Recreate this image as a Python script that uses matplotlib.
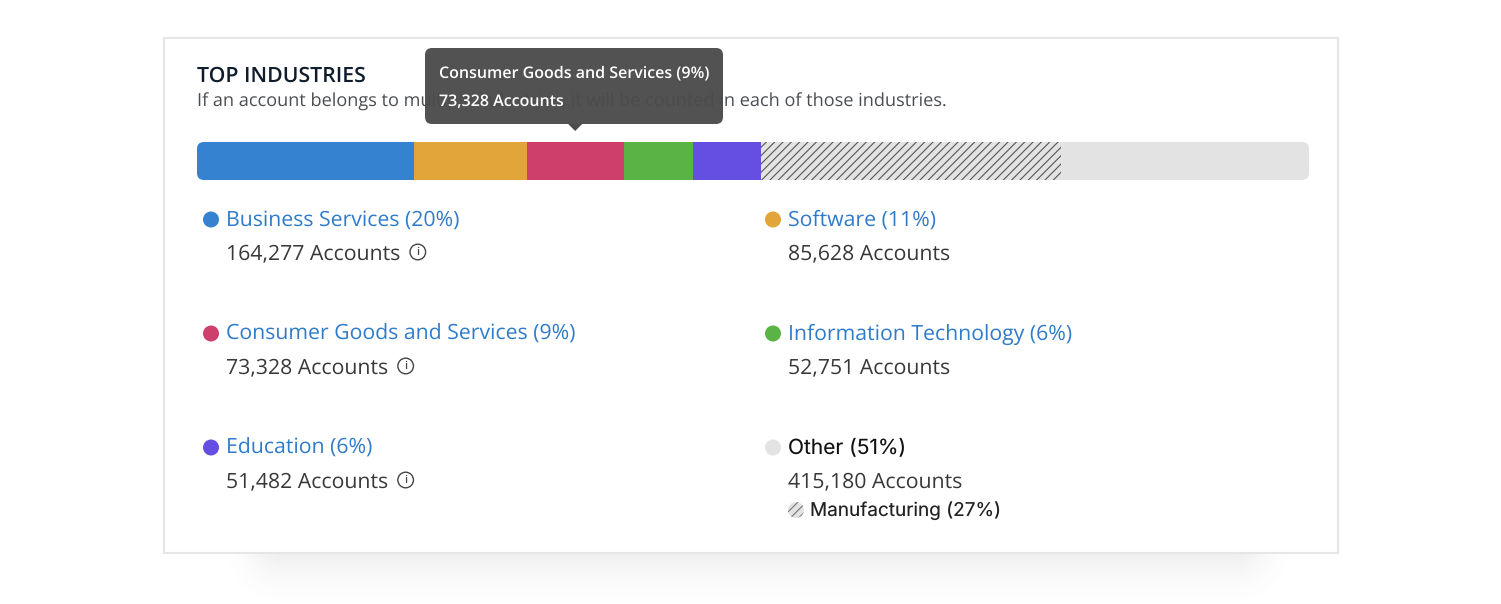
import matplotlib
matplotlib.use("Agg")
import matplotlib.pyplot as plt
import numpy as np
from matplotlib.patches import Circle, FancyBboxPatch, Polygon, Rectangle

# Данные
industries = ['Business Services', 'Software', 'Consumer Goods and Services',
              'Information Technology', 'Education', 'Other']
percents = [20, 11, 9, 6, 6, 51]
accounts = [164277, 85628, 73328, 52751, 51482, 415180]
colors = ['#3583d0', '#e2a539', '#cf3f6b', '#5ab345', '#654fe3', '#e3e3e3']
has_info = [True, False, True, False, True, False]
manufacturing_pct = 27

W, H = 1501, 604
plt.rcParams['font.family'] = ['Open Sans', 'DejaVu Sans']
plt.rcParams['text.hinting'] = 'none'
plt.rcParams['hatch.linewidth'] = 0.8
plt.rcParams['hatch.color'] = '#555555'


def px(size):
    # размер шрифта в пикселях -> пункты при dpi=100
    return size * 0.72


fig = plt.figure(figsize=(W / 100, H / 100), dpi=100, facecolor='white')
page = fig.add_axes([0, 0, 1, 1], zorder=0)
page.set_xlim(0, W)
page.set_ylim(H, 0)
page.axis('off')

# Тень под карточкой
xx, yy = np.meshgrid(np.arange(W), np.arange(H))
dx = np.maximum(np.maximum(280 - xx, xx - 1235), 0)
dy = np.maximum(yy - 545, 0)
dist = np.hypot(dx, dy)
alpha = np.clip(1 - dist / 68, 0, 1) ** 2 * 0.13
alpha[yy < 545] = 0
shadow = np.zeros((H, W, 4))
shadow[..., :3] = 0.35
shadow[..., 3] = alpha
page.imshow(shadow, extent=(0, W, H, 0), aspect='auto', zorder=0, interpolation='bilinear')
page.set_xlim(0, W)
page.set_ylim(H, 0)

# Карточка
page.add_patch(Rectangle((164, 38), 1174, 515, facecolor='white', edgecolor='#e6e6e6',
                         linewidth=1.5, zorder=1))

page.text(197, 82, 'TOP INDUSTRIES', fontsize=px(21.3), fontweight=600, color='#0f1c2b',
          va='baseline', zorder=2)
page.text(197, 107, 'If an account belongs to multiple industries, it will be counted in each of those industries.',
          fontsize=px(18.2), color='#4a4e52', va='baseline', zorder=2)

# Полоса
total = sum(accounts)
bar_ax = fig.add_axes([197 / W, 1 - 180 / H, 1112 / W, 38 / H], zorder=1)
bar_ax.set_xlim(0, total)
bar_ax.set_ylim(0, 1)
bar_ax.axis('off')

clip = FancyBboxPatch((197, 142), 1112, 38, boxstyle='round,pad=0,rounding_size=7',
                      transform=page.transData, facecolor='none', edgecolor='none')
page.add_patch(clip)

lefts = np.concatenate([[0], np.cumsum(accounts)[:-1]])
for left, value, color in zip(lefts, accounts, colors):
    bar = bar_ax.barh(0.5, value, left=left, height=1, color=color, linewidth=0)[0]
    bar.set_clip_path(clip)

# Manufacturing - штриховка внутри Other
hatched = bar_ax.barh(0.5, total * manufacturing_pct / 100, left=lefts[-1], height=1,
                      facecolor='#e3e3e3', edgecolor='#555555', hatch='////', linewidth=0)[0]
hatched.set_clip_path(clip)

# Легенда
col_x = [203, 765]
row_y = [226, 340, 454]
renderer = fig.canvas.get_renderer()
for i, name in enumerate(industries):
    x = col_x[i % 2]
    y = row_y[i // 2]
    page.add_patch(Circle((x + 8, y - 6.5), 8, facecolor=colors[i], edgecolor='none', zorder=2))
    label = f'{name} ({percents[i]}%)'
    if name == 'Other':
        page.text(x + 22.5, y - 0.5, label, fontsize=px(20.9), color='#111111', family=['Inter', 'DejaVu Sans'],
                  va='baseline', zorder=2)
    else:
        page.text(x + 22.5, y, label, fontsize=px(21.3), color='#2f7bcb', va='baseline', zorder=2)
    acc = page.text(x + 22.5, y + 33.4, f'{accounts[i]:,} Accounts', fontsize=px(21.3), color='#383838',
                    va='baseline', zorder=2)
    if has_info[i]:
        end = acc.get_window_extent(renderer).x1
        cy = y + 26
        page.add_patch(Circle((end + 18, cy), 7.8, facecolor='white', edgecolor='#444444',
                              linewidth=1.0, zorder=2))
        page.text(end + 18, cy + 0.5, 'i', fontsize=px(11), color='#444444', ha='center', va='center',
                  fontweight=600, zorder=3)

# Строка Manufacturing
other_x = col_x[1]
other_y = row_y[2]
page.add_patch(Circle((other_x + 31, other_y + 56), 8, facecolor='#e3e3e3', edgecolor='#777777',
                      hatch='////', linewidth=0, zorder=2))
page.text(other_x + 45, other_y + 62, f'Manufacturing ({manufacturing_pct}%)', fontsize=px(19),
          color='#222222', family=['Inter', 'DejaVu Sans'], va='baseline', zorder=2)

# Подсказка для Consumer Goods and Services
tip = 2
tip_x = bar_ax.transData.transform((lefts[tip] + accounts[tip] / 2, 0))[0]
page.add_patch(FancyBboxPatch((425, 48), 298, 76, boxstyle='round,pad=0,rounding_size=7',
                              facecolor='#4b4b4b', edgecolor='none', alpha=0.96, zorder=4))
page.add_patch(Polygon([(tip_x - 7, 124), (tip_x + 7, 124), (tip_x, 131)], closed=True,
                       facecolor='#4b4b4b', edgecolor='none', zorder=4))
page.text(439, 77.5, f'{industries[tip]} ({percents[tip]}%)', fontsize=px(16.05), fontweight=600,
          color='white', va='baseline', zorder=5)
page.text(439, 105.5, f'{accounts[tip]:,} Accounts', fontsize=px(16.05), fontweight=600,
          color='white', va='baseline', zorder=5)

fig.savefig('out.png', dpi=100, facecolor='white')
